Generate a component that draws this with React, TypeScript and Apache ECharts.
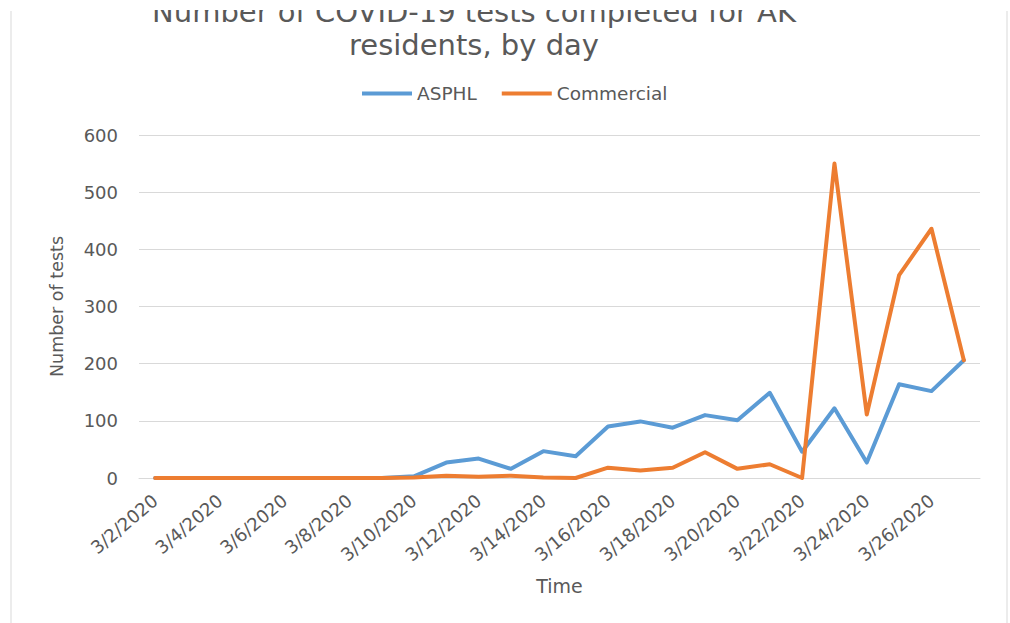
import React, { useEffect, useRef } from "react";
import * as echarts from "echarts";

const dates: string[] = [
  "3/2/2020", "3/3/2020", "3/4/2020", "3/5/2020", "3/6/2020", "3/7/2020", "3/8/2020",
  "3/9/2020", "3/10/2020", "3/11/2020", "3/12/2020", "3/13/2020", "3/14/2020", "3/15/2020",
  "3/16/2020", "3/17/2020", "3/18/2020", "3/19/2020", "3/20/2020", "3/21/2020", "3/22/2020",
  "3/23/2020", "3/24/2020", "3/25/2020", "3/26/2020", "3/27/2020",
];
const asphl: number[] = [0, 0, 0, 0, 0, 0, 0, 0, 3, 27, 34, 16, 47, 38, 90, 99, 88, 110, 101, 149, 46, 122, 27, 164, 152, 206];
const commercial: number[] = [0, 0, 0, 0, 0, 0, 0, 0, 1, 4, 2, 4, 1, 0, 18, 13, 18, 45, 16, 24, 0, 550, 111, 355, 436, 206];

const titleText = "Number of COVID-19 tests completed for AK\nresidents, by day";
const FONT = "DejaVu Sans";
const TXT = "#595959";

export default function App() {
  const ref = useRef<HTMLDivElement>(null);
  useEffect(() => {
    if (!ref.current) return;
    const chart = echarts.init(ref.current, undefined, { renderer: "svg" });
    chart.setOption({
      animation: false,
      backgroundColor: "#ffffff",
      textStyle: { fontFamily: FONT, color: TXT },
      graphic: [
        {
          type: "text",
          x: 474,
          y: -5,
          style: {
            text: titleText,
            fontFamily: FONT,
            fontSize: 29,
            lineHeight: 33,
            fill: TXT,
            textAlign: "center",
            textVerticalAlign: "top",
          },
        },
        { type: "rect", z: 100, shape: { x: 0, y: 0, width: 1010, height: 10 }, style: { fill: "#ffffff" } },
        { type: "line", shape: { x1: 11, y1: 11, x2: 11, y2: 623 }, style: { stroke: "#d9d9d9", lineWidth: 1 } },
        { type: "line", shape: { x1: 1007, y1: 11, x2: 1007, y2: 623 }, style: { stroke: "#d9d9d9", lineWidth: 1 } },
      ],
      legend: {
        left: 357,
        top: 79,
        itemWidth: 50,
        itemHeight: 4,
        itemGap: 25,
        icon: "rect",
        textStyle: { fontFamily: FONT, fontSize: 18.5, color: TXT },
        data: ["ASPHL", "Commercial"],
      },
      grid: { left: 139, right: 30, top: 135, bottom: 145, containLabel: false },
      xAxis: {
        type: "category",
        data: dates,
        boundaryGap: true,
        name: "Time",
        nameLocation: "middle",
        nameGap: 98,
        nameTextStyle: { fontFamily: FONT, fontSize: 19, color: TXT },
        axisLine: { show: true, lineStyle: { color: "#d9d9d9", width: 1 } },
        axisTick: { show: false },
        axisLabel: {
          interval: 1,
          rotate: 40,
          margin: 20,
          fontFamily: FONT,
          fontSize: 18,
          color: TXT,
        },
      },
      yAxis: {
        type: "value",
        min: 0,
        max: 600,
        interval: 100,
        name: "Number of tests",
        nameLocation: "middle",
        nameRotate: 90,
        nameGap: 73,
        nameTextStyle: { fontFamily: FONT, fontSize: 17.5, color: TXT },
        axisLine: { show: false },
        axisTick: { show: false },
        axisLabel: { margin: 21, fontFamily: FONT, fontSize: 18, color: TXT },
        splitLine: { show: true, lineStyle: { color: "#d9d9d9", width: 1 } },
      },
      series: [
        {
          name: "ASPHL",
          type: "line",
          data: asphl,
          symbol: "none",
          color: "#5b9bd5",
          lineStyle: { width: 4, color: "#5b9bd5", cap: "round", join: "round" },
        },
        {
          name: "Commercial",
          type: "line",
          data: commercial,
          symbol: "none",
          color: "#ed7d31",
          lineStyle: { width: 4, color: "#ed7d31", cap: "round", join: "round" },
        },
      ],
    });
    return () => chart.dispose();
  }, []);
  return (
    <div
      ref={ref}
      style={{ position: "fixed", left: 0, top: 0, width: 1010, height: 623 }}
    />
  );
}
